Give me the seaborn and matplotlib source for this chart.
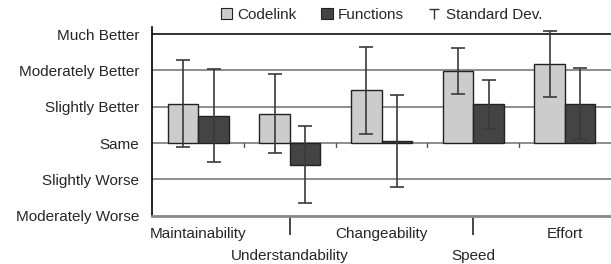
import matplotlib
matplotlib.use('Agg')
import matplotlib.pyplot as plt
from matplotlib.path import Path
from matplotlib.lines import Line2D
from matplotlib.patches import Patch
import seaborn as sns
import pandas as pd

# data (scale: -2 = Moderately Worse ... 3 = Much Better)
categories = ['Maintainability', 'Understandability', 'Changeability', 'Speed', 'Effort']
codelink_mean = [1.09, 0.81, 1.45, 1.99, 2.18]
codelink_sd = [1.20, 1.08, 1.21, 0.64, 0.92]
functions_mean = [0.75, -0.59, 0.06, 1.07, 1.08]
functions_sd = [1.28, 1.06, 1.26, 0.67, 0.98]
level_values = [-2, -1, 0, 1, 2, 3]
level_labels = ['Moderately Worse', 'Slightly Worse', 'Same',
                'Slightly Better', 'Moderately Better', 'Much Better']

sns.set_style('white')
plt.rcParams['font.family'] = ['Liberation Sans', 'DejaVu Sans']
plt.rcParams['font.size'] = 11

df = pd.DataFrame({
    'category': categories * 2,
    'group': ['Codelink'] * len(categories) + ['Functions'] * len(categories),
    'mean': codelink_mean + functions_mean,
})
sds = {'Codelink': codelink_sd, 'Functions': functions_sd}
colors = {'Codelink': '#cccccc', 'Functions': '#444444'}

fig = plt.figure(figsize=(6.11, 2.64), dpi=100)
ax = fig.add_axes([0.2495, 0.183, 0.750, 0.715])

# grid lines behind bars
for v in level_values[1:]:
    ax.axhline(v, color='#111111' if v == level_values[-1] else '#7a7a7a',
               lw=1.2, zorder=0)

sns.barplot(data=df, x='category', y='mean', hue='group', order=categories,
            hue_order=['Codelink', 'Functions'], palette=colors, width=0.667,
            edgecolor='#222222', linewidth=1.0, errorbar=None, legend=False,
            ax=ax, zorder=2)

# error bars at bar centres
for cont, name in zip(ax.containers, ['Codelink', 'Functions']):
    xs = [b.get_x() + b.get_width() / 2 for b in cont]
    ys = df.loc[df['group'] == name, 'mean'].tolist()
    eb = ax.errorbar(xs, ys, yerr=sds[name], fmt='none', ecolor='#3a3a3a',
                     elinewidth=1.2, capsize=5.3, capthick=1.2, zorder=3)
    for art in eb.lines[1] + eb.lines[2]:
        art.set_clip_on(False)

# small ticks on the "Same" line between categories
for i in range(1, len(categories)):
    ax.plot([i - 0.5, i - 0.5], [0, -0.11], color='#555555', lw=1.0, zorder=1)

ax.set_ylim(-2, 3.2)
ax.set_xlim(-0.5, len(categories) - 0.5)
ax.set_yticks(level_values)
ax.set_yticklabels(level_labels)
ax.tick_params(axis='y', direction='inout', length=13, width=1.0, color='black',
               pad=3, labelsize=11)
ax.set_xlabel('')
ax.set_ylabel('')

# staggered category labels
ax.set_xticks(range(len(categories)))
ax.set_xticklabels(categories, fontsize=11)
ax.tick_params(axis='x', direction='out', bottom=True, length=0, pad=8.5)
for i, tick in enumerate(ax.xaxis.get_major_ticks()):
    if i % 2 == 1:
        tick.set_pad(24)
        tick.tick1line.set_markersize(13.7)
        tick.tick1line.set_markeredgewidth(1.2)
        tick.tick1line.set_color('#555555')

for s in ['top', 'right']:
    ax.spines[s].set_visible(False)
ax.spines['left'].set_color('black')
ax.spines['left'].set_linewidth(1.2)
ax.spines['bottom'].set_color('#888888')
ax.spines['bottom'].set_linewidth(2.0)

# legend
tee = Path([[-1, 1], [1, 1], [0, 1], [0, -1]],
           [Path.MOVETO, Path.LINETO, Path.MOVETO, Path.LINETO])
handles = [
    Patch(facecolor=colors['Codelink'], edgecolor='#222222', lw=0.8),
    Patch(facecolor=colors['Functions'], edgecolor='#222222', lw=0.8),
    Line2D([], [], marker=tee, markersize=7, color='#333333', lw=0,
           markeredgewidth=1.0),
]
fig.legend(handles, ['Codelink', 'Functions', 'Standard Dev.'], ncol=3,
           loc='center', bbox_to_anchor=(0.624, 0.943), frameon=False,
           handlelength=0.75, handleheight=0.75, handletextpad=0.36,
           columnspacing=1.6, fontsize=11, borderpad=0, borderaxespad=0)

fig.savefig('out.png', dpi=100)
